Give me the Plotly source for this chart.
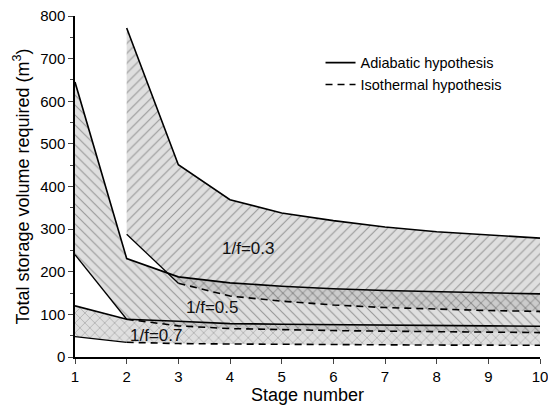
import plotly.graph_objects as go

stages = [1, 2, 3, 4, 5, 6, 7, 8, 9, 10]

# 1/f = 0.3 (starts at stage 2)
stages_03 = [2, 3, 4, 5, 6, 7, 8, 9, 10]
adiab_03 = [772, 451, 369, 338, 320, 305, 294, 286, 279]
iso_03 = [288, 173, 143, 131, 122, 116, 112, 109, 107]

# 1/f = 0.5
adiab_05 = [645, 231, 188, 174, 166, 160, 156, 153, 150, 148]
iso_05 = [240, 88.6, 73, 66.6, 63.5, 62, 60.5, 59.3, 58.3, 57.3]

# 1/f = 0.7
adiab_07 = [120, 88.6, 83.8, 78.4, 76.8, 75.5, 74.5, 73.5, 73, 72]
iso_07 = [48, 34.5, 31.5, 30.5, 29.5, 29, 28.5, 28, 27.8, 27.5]

band_labels = ["1/f=0.3", "1/f=0.5", "1/f=0.7"]
label_x = [4.35, 3.65, 2.56]
label_y = [255, 117, 51]

FONT = "Arial, Liberation Sans, sans-serif"
fig = go.Figure()

bands = [
    (stages_03, adiab_03, iso_03, "/"),
    (stages, adiab_05, iso_05, "\\"),
    (stages, adiab_07, iso_07, "x"),
]
for xs, up, lo, shp in bands:
    fig.add_trace(go.Scatter(
        x=list(xs) + list(xs)[::-1], y=list(up) + list(lo)[::-1],
        fill="toself", mode="none", showlegend=False, hoverinfo="skip",
        fillcolor="rgba(0,0,0,0)",
        fillpattern=dict(shape=shp, size=7, solidity=0.16,
                         fgcolor="rgba(80,80,80,1)",
                         bgcolor="rgba(170,170,170,0.38)"),
    ))

for i, (xs, up, lo, shp) in enumerate(bands):
    fig.add_trace(go.Scatter(
        x=xs, y=up, mode="lines", line=dict(color="black", width=1.6),
        name="Adiabatic hypothesis", showlegend=(i == 0), legendrank=1))
    fig.add_trace(go.Scatter(
        x=xs[:2], y=lo[:2], mode="lines", line=dict(color="black", width=1.3),
        showlegend=False))
    fig.add_trace(go.Scatter(
        x=xs[1:], y=lo[1:], mode="lines",
        line=dict(color="black", width=1.6, dash="7px,5px"),
        name="Isothermal hypothesis", showlegend=(i == 0), legendrank=2))

for t, lx, ly in zip(band_labels, label_x, label_y):
    fig.add_annotation(x=lx, y=ly, text=t, showarrow=False,
                       font=dict(family=FONT, size=17, color="#111"))

fig.update_layout(
    width=548, height=405,
    margin=dict(l=75, r=8, t=16, b=48),
    paper_bgcolor="white", plot_bgcolor="white",
    font=dict(family=FONT, size=15, color="black"),
    legend=dict(x=0.528, y=0.91, xanchor="left", yanchor="top",
                bgcolor="rgba(0,0,0,0)", font=dict(size=14.5),
                tracegroupgap=0, itemwidth=30),
    xaxis=dict(range=[1, 10], dtick=1, ticks="outside", ticklen=5,
               tickwidth=1.3, showline=True, linecolor="black", linewidth=1.5,
               showgrid=False, zeroline=False, automargin=False,
               ticklabeloverflow="allow",
               title=dict(text="Stage number", font=dict(size=18), standoff=2)),
    yaxis=dict(range=[0, 800], dtick=100, ticks="outside", ticklen=5,
               tickwidth=1.3, showline=True, linecolor="black", linewidth=1.5,
               showgrid=False, zeroline=False, automargin=False,
               ticklabeloverflow="allow",
               minor=dict(dtick=50, ticks="outside", ticklen=3, tickwidth=1.2,
                          showgrid=False),
               title=dict(text="Total storage volume required (m<sup>3</sup>)",
                          font=dict(size=18), standoff=6)),
)

fig.write_html(
    "out.html",
    config={"displayModeBar": False},
    post_script="document.body.style.margin='0';document.body.style.overflow='hidden';",
)
